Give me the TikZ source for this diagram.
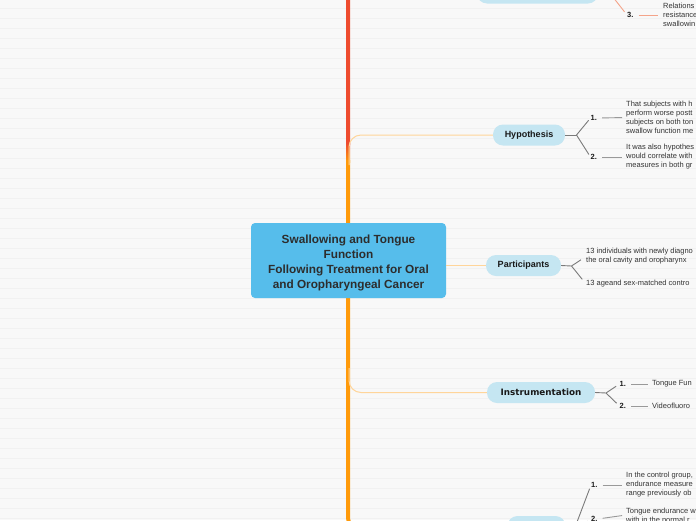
\documentclass[tikz,border=0pt]{standalone}
\usepackage{fontspec}
\setmainfont{Liberation Sans}
\newfontfamily\verdfont{DejaVu Sans}
\definecolor{bgc}{HTML}{F8F8F8}
\definecolor{stripec}{HTML}{F1F1F1}
\definecolor{rootc}{HTML}{56BDEB}
\definecolor{topicc}{HTML}{C5E6F2}
\definecolor{trunkred}{HTML}{EE4B2E}
\definecolor{trunkorange}{HTML}{FF9A0A}
\definecolor{branchc}{HTML}{FFD59A}
\definecolor{forkc}{HTML}{7A7A7A}
\definecolor{itemc}{HTML}{999999}
\definecolor{salmonc}{HTML}{F4A48A}
\definecolor{leafc}{HTML}{333333}
\definecolor{roottext}{HTML}{2D2D2D}
\tikzset{
  rootbox/.style={fill=rootc, rounded corners=4pt, minimum width=195pt, minimum height=75pt, align=center, text=roottext, font=\fontsize{11.8}{15}\selectfont\bfseries, inner sep=0pt},
  topicbox/.style={fill=topicc, rounded corners=10pt, minimum height=21pt, inner sep=0pt, text=black!90, font=\fontsize{9}{11}\selectfont\bfseries},
  leaf/.style={anchor=west, align=left, inner sep=0pt, text=leafc, font=\fontsize{7.5}{9}\selectfont},
  num/.style={anchor=west, inner sep=0pt, text=black!90, font=\fontsize{7.5}{9}\selectfont\bfseries},
  branch/.style={draw=branchc, line width=1pt, rounded corners=12pt},
  fork/.style={draw=forkc, line width=0.9pt},
  itemline/.style={draw=itemc, line width=0.9pt, shorten <=5pt, shorten >=4pt},
  sfork/.style={draw=salmonc, line width=0.9pt},
  sitemline/.style={draw=salmonc, line width=0.9pt, shorten <=5pt, shorten >=5pt},
}
\begin{document}
\begin{tikzpicture}[x=1pt,y=-1pt]
\useasboundingbox (0,0) rectangle (696,520);
\fill[bgc] (0,0) rectangle (696,520);
\foreach \i in {0,...,51} \fill[stripec] (0,{7.6+10*\i}) rectangle (696,{9.2+10*\i});

% topic nodes
\node[topicbox, minimum width=121pt, minimum height=23pt] (t1) at (537.5,-8) {};
\node[topicbox, minimum width=72pt] (hyp) at (529,135) {Hypothesis};
\node[topicbox, minimum width=75pt] (part) at (523.5,265.5) {Participants};
\node[topicbox, minimum width=108pt, font=\fontsize{8.8}{11}\verdfont\bfseries] (instr) at (541,392.5) {Instrumentation};
\node[topicbox, minimum width=58pt, minimum height=22pt] (t5) at (536.5,527) {};

% trunk
\coordinate (trtop) at (348,145);
\coordinate (trmid) at (348,160);
\draw[trunkred, line width=4pt, rounded corners=9pt] (t1.west) -| (trtop);
\shade[top color=trunkred, bottom color=trunkorange] (346,143) rectangle (350,162);
\draw[trunkorange, line width=4pt, rounded corners=9pt] (trmid) |- (t5.west);

% thin branches
\coordinate (b1s) at (349,165);
\coordinate (b3s) at (349,368);
\draw[branch] (b1s) |- (hyp.west);
\draw[branch] (b3s) |- (instr.west);

% root
\node[rootbox] (root) at (348.5,260.5) {};
\node[align=center, text=roottext, font=\fontsize{11.8}{15}\selectfont\bfseries, inner sep=0pt] (roottxt) at (348.5,263) {Swallowing and Tongue\\Function\\Following Treatment for Oral\\and Oropharyngeal Cancer};
\draw[branch] (root.east |- part.west) -- (part.west);

% top topic item 3
\coordinate (tf) at (609,-8);
\node[num] (t3n) at (627,15) {3.};
\node[leaf] (t3) at (663,15) {Relations\\resistance\\swallowin};
\draw[sfork] (t1.east) -- (tf);
\draw[sfork, shorten >=4pt] (tf) -- (t3n.west);
\draw[sitemline] (t3n.east) -- (t3.west);

% hypothesis
\coordinate (hf) at (576.5,135);
\node[num] (h1n) at (590.5,118) {1.};
\node[num] (h2n) at (590.5,157) {2.};
\node[leaf] (h1) at (626,117.5) {That subjects with h\\perform worse postt\\subjects on both ton\\swallow function me};
\node[leaf] (h2) at (626,157) {It was also hypothes\\would correlate with\\measures in both gr};
\draw[fork] (hyp.east) -- (hf);
\draw[fork, shorten >=3pt] (hf) -- (h1n.west);
\draw[fork, shorten >=3pt] (hf) -- (h2n.west);
\draw[itemline] (h1n.east) -- (h1.west);
\draw[itemline] (h2n.east) -- (h2.west);

% participants
\coordinate (pf) at (571.5,266);
\node[leaf] (p1) at (586,256.5) {13 individuals with newly diagno\\the oral cavity and oropharynx};
\node[leaf] (p2) at (586,284) {13 ageand sex-matched contro};
\draw[fork] (part.east) -- (pf);
\draw[fork, shorten >=6pt] (pf) -- (p1.west);
\draw[fork, shorten >=6pt] (pf) -- (p2.west);

% instrumentation
\coordinate (if) at (606,393);
\node[num] (i1n) at (619.5,384) {1.};
\node[num] (i2n) at (619.5,406) {2.};
\node[leaf] (i1) at (652,384) {Tongue Fun};
\node[leaf] (i2) at (652,406) {Videofluoro};
\draw[fork] (instr.east) -- (if);
\draw[fork, shorten >=4pt] (if) -- (i1n.west);
\draw[fork, shorten >=4pt] (if) -- (i2n.west);
\draw[itemline] (i1n.east) -- (i1.west);
\draw[itemline] (i2n.east) -- (i2.west);

% bottom topic
\coordinate (bf) at (574,530);
\node[num] (b1n) at (591,485) {1.};
\node[num] (b2n) at (591,519) {2.};
\node[leaf] (b1) at (626,485) {In the control group,\\endurance measure\\range previously ob};
\node[leaf] (b2) at (626,515) {Tongue endurance w\\with in the normal r};
\draw[fork] (t5.east) -- (bf);
\draw[fork, shorten >=4pt] (bf) -- (b1n.west);
\draw[fork, shorten >=4pt] (bf) -- (b2n.west);
\draw[itemline] (b1n.east) -- (b1.west);
\draw[itemline] (b2n.east) -- (b2.west);
\end{tikzpicture}
\end{document}
